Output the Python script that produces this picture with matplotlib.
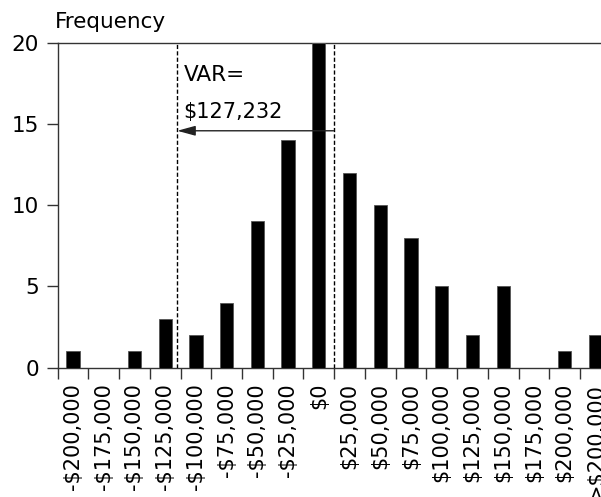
import matplotlib
matplotlib.use("Agg")
import matplotlib.pyplot as plt
import numpy as np

categories = ["-$200,000", "-$175,000", "-$150,000", "-$125,000", "-$100,000",
              "-$75,000", "-$50,000", "-$25,000", "$0", "$25,000", "$50,000",
              "$75,000", "$100,000", "$125,000", "$150,000", "$175,000",
              "$200,000", ">$200,000"]
frequency = [1, 0, 1, 3, 2, 4, 9, 14, 20, 12, 10, 8, 5, 2, 5, 0, 1, 2]
yticks = [0, 5, 10, 15, 20]
bin_width = 25000
mean_pos = 8.48          # position of right dashed line (category units)
var_value = 127232
var_label = ["VAR=", "$127,232"]

plt.rcParams['font.family'] = ['DejaVu Sans']
line_col = '#333333'

fig = plt.figure(figsize=(6.01, 4.97), dpi=100)
ax = fig.add_axes([57.7/601, 1 - 367.7/497, (601 - 57.7)/601, (367.7 - 42.7)/497])

x = np.arange(len(categories))
ax.bar(x, frequency, width=0.43, color='black', edgecolor='#555555', linewidth=0.6, zorder=3)

ax.set_xlim(-0.5, -0.5 + (601 - 57.7)/30.72)
ax.set_ylim(0, 20)

for s in ['left', 'bottom', 'top']:
    ax.spines[s].set_color(line_col)
    ax.spines[s].set_linewidth(1.0)
ax.spines['right'].set_visible(False)

ax.set_yticks(yticks)
ax.set_yticklabels([str(v) for v in yticks])
ax.tick_params(axis='y', direction='out', length=8, width=1.0, color=line_col,
               pad=5.5, labelsize=15.5)

ax.set_xticks(x)
ax.set_xticklabels(categories, rotation=90, va='top', ha='center')
ax.tick_params(axis='x', which='major', length=0, pad=11, labelsize=15)
ax.set_xticks(np.arange(len(categories)) - 0.5, minor=True)
ax.tick_params(axis='x', which='minor', direction='out', length=8, width=1.0, color=line_col)

var_pos = mean_pos - var_value / bin_width
for xp in [var_pos, mean_pos]:
    ax.plot([xp, xp], [0, 20], color='black', lw=1.0, linestyle=(0, (3, 1.6)), zorder=4)

ax.annotate('', xy=(var_pos, 14.58), xytext=(mean_pos, 14.58),
            arrowprops=dict(arrowstyle='-|>,head_length=1.1,head_width=0.3',
                            color='#222222', lw=1.0, shrinkA=0, shrinkB=0), zorder=5)

ax.text(var_pos + 0.2, 18.0, var_label[0], fontsize=15.5, va='center', ha='left')
ax.text(var_pos + 0.2, 15.75, var_label[1], fontsize=15, va='center', ha='left')

fig.text(55/601, 1 - 28.3/497, 'Frequency', fontsize=15.5, ha='left', va='baseline')

fig.savefig('out.png', dpi=100)
